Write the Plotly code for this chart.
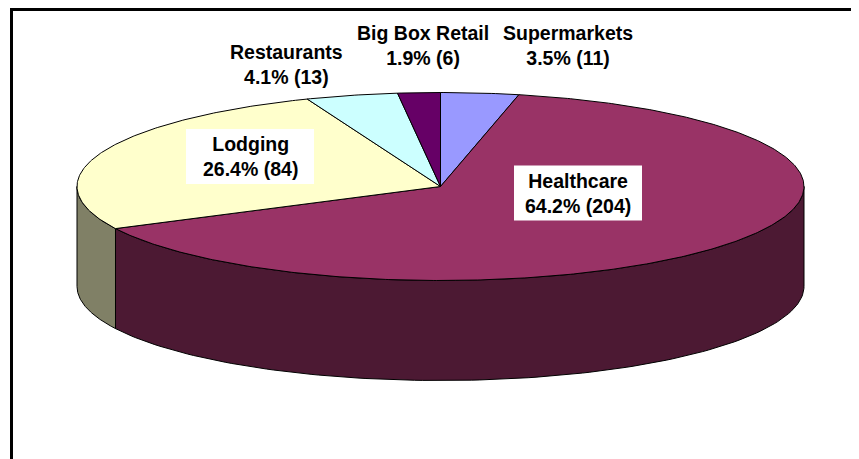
import numpy as np
import plotly.graph_objects as go

# ---- data (clockwise from 12 o'clock) ----
categories = ["Supermarkets", "Healthcare", "Lodging", "Restaurants", "Big Box Retail"]
counts = [11, 204, 84, 13, 6]
percent_labels = ["3.5%", "64.2%", "26.4%", "4.1%", "1.9%"]

# ---- style ----
top_colors = ["#9999FF", "#993366", "#FFFFCC", "#CCFFFF", "#660066"]
side_colors = ["#4D4D80", "#4C1933", "#808066", "#668080", "#330033"]

W, H = 859, 459
OFF = 8                 # page body margin
cx, cy = 440.5, 186.5   # pie centre (page px)
ra, rb = 363.5, 94.0    # ellipse semi-axes
depth = 100.0           # pie thickness

def pt(theta_deg, dy=0.0):
    t = np.radians(theta_deg)
    return cx + ra * np.sin(t), cy - rb * np.cos(t) + dy

fig = go.Figure()

total = float(sum(counts))
bounds = []
acc = 0.0
for c in counts:
    start = acc / total * 360.0
    acc += c
    end = acc / total * 360.0
    bounds.append((start, end))

# side walls (only front half, 90..270 deg visible)
for (s, e), col in zip(bounds, side_colors):
    lo, hi = max(s, 90.0), min(e, 270.0)
    if hi <= lo:
        continue
    th = np.linspace(lo, hi, 120)
    xs_t, ys_t = pt(th)
    xs_b, ys_b = pt(th[::-1], depth)
    xs = np.concatenate([xs_t, xs_b, xs_t[:1]])
    ys = np.concatenate([ys_t, ys_b, ys_t[:1]])
    fig.add_trace(go.Scatter(x=xs, y=ys, mode="lines", fill="toself",
                             fillcolor=col, line=dict(color="black", width=1),
                             hoverinfo="skip", showlegend=False))

# top faces
for (s, e), col, name in zip(bounds, top_colors, categories):
    th = np.linspace(s, e, max(8, int((e - s) * 2)))
    xs_a, ys_a = pt(th)
    xs = np.concatenate([[cx], xs_a, [cx]])
    ys = np.concatenate([[cy], ys_a, [cy]])
    fig.add_trace(go.Scatter(x=xs, y=ys, mode="lines", fill="toself",
                             fillcolor=col, line=dict(color="black", width=1),
                             name=name, hoverinfo="name", showlegend=False))

# ---- labels (x centre, y centre, white box?) ----
label_pos = {
    "Supermarkets": (568, 45, False),
    "Big Box Retail": (423, 45, False),
    "Restaurants": (286, 64, False),
    "Lodging": (250, 156.5, True),
    "Healthcare": (578, 193, True),
}
shapes = []
annotations = []
font = dict(family="Liberation Sans, Arial, sans-serif", size=19.5, color="black")
for name, pct, n in zip(categories, percent_labels, counts):
    x, y, boxed = label_pos[name]
    if boxed:
        shapes.append(dict(type="rect", xref="x", yref="y",
                           x0=x - 64, x1=x + 64, y0=y - 27.5, y1=y + 27.5,
                           fillcolor="white", line=dict(width=0), layer="above"))
    annotations.append(dict(x=x, y=y, xref="x", yref="y",
                            text="<b>%s<br>%s (%d)</b>" % (name, pct, n),
                            showarrow=False, font=font, xanchor="center", yanchor="middle",
                            align="center", borderpad=0))

# chart frame (cropped: only top and left edges visible)
shapes.append(dict(type="rect", xref="x", yref="y", x0=11.5, y0=9.5, x1=W + 20, y1=H + 20,
                   line=dict(color="black", width=3), fillcolor="rgba(0,0,0,0)", layer="above"))

fig.update_layout(
    width=W - OFF, height=H - OFF,
    margin=dict(l=0, r=0, t=0, b=0),
    paper_bgcolor="white", plot_bgcolor="white",
    xaxis=dict(range=[OFF, W], visible=False, fixedrange=True),
    yaxis=dict(range=[H, OFF], visible=False, fixedrange=True),
    shapes=shapes, annotations=annotations,
)

fig.write_html("out.html")
